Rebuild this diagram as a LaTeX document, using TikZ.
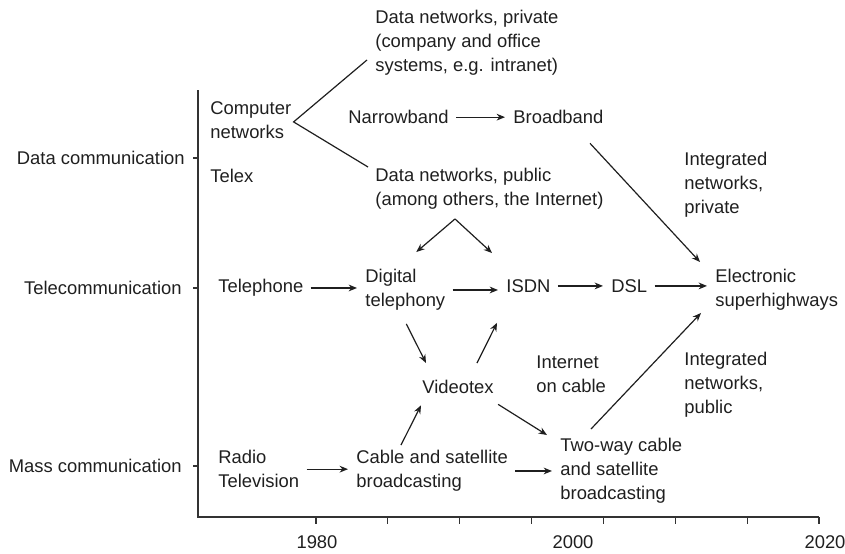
\documentclass[tikz,border=0pt]{standalone}
\usepackage{fontspec}
\setmainfont{Liberation Sans}
\usetikzlibrary{arrows.meta,calc}
\tikzset{
  lbl/.style={anchor=north west,inner sep=0pt,align=left,
    font=\fontsize{9.2}{12}\selectfont,text=black!88},
  side/.style={lbl,anchor=north east,align=right},
  year/.style={lbl,anchor=north,align=center},
  axe/.style={line width=0.6pt,draw=black!80},
  lien/.style={line width=0.6pt,draw=black!88},
  arr/.style={lien,-{Stealth[length=4.2pt,width=3.4pt]}},
  hor/.style={arr,shorten <=3.5pt,shorten >=4pt}
}
\begin{document}
\begin{tikzpicture}[x=0.5pt,y=-0.5pt]
\useasboundingbox (0,0) rectangle (845,553);

% Axes
\def\pas{71.86}
\draw[axe] (198,90) -- (198,517) -- (819,517);
\foreach \i in {0,...,7}
  \draw[axe] (316+\i*\pas,517) -- (316+\i*\pas,524);
\foreach \y in {158,288,466}
  \draw[axe] (193,\y) -- (198,\y);

% Domaines
\node[side] (datacom) at (185,151) {Data communication};
\node[side] (telecom) at (182,281) {Telecommunication};
\node[side] (masscom) at (182,459) {Mass communication};

% Annees
\node[year] (y1980) at (317,535) {1980};
\node[year] (y2000) at (573,535) {2000};
\node[year] (y2020) at (825,535) {2020};

% Donnees
\node[lbl] (compnet) at (210,101) {Computer\\networks};
\node[lbl] (telex) at (210,169) {Telex};
\node[lbl] (privdata) at (375,10) {Data networks, private\\(company and office\\systems, e.g. intranet)};
\node[lbl] (narrow) at (348,110) {Narrowband};
\node[lbl] (broad) at (513,110) {Broadband};
\node[lbl] (pubdata) at (375,168) {Data networks, public\\(among others, the Internet)};
\node[lbl] (intpriv) at (684,152) {Integrated\\networks,\\private};

% Telecommunication
\node[lbl] (phone) at (218,279) {Telephone};
\node[lbl] (digital) at (365,269) {Digital\\telephony};
\node[lbl] (isdn) at (506,279) {ISDN};
\node[lbl] (dsl) at (611,279) {DSL};
\node[lbl] (elec) at (715,269) {Electronic\\superhighways};
\node[lbl] (videotex) at (422,380) {Videotex};
\node[lbl] (inetcable) at (536,355) {Internet\\on cable};
\node[lbl] (intpub) at (684,352) {Integrated\\networks,\\public};

% Masse
\node[lbl] (radio) at (218,450) {Radio\\Television};
\node[lbl] (cable) at (356,450) {Cable and satellite\\broadcasting};
\node[lbl] (twoway) at (560,438) {Two-way cable\\and satellite\\broadcasting};

% Branches
\draw[lien] ($(privdata.west)+(-8,17)$) -- ($(compnet.east)+(2,2)$)
  -- ($(pubdata.north west)+(-7,-1)$);

% Fleches horizontales
\draw[hor] (narrow.east) -- (narrow.east -| broad.west);
\draw[hor] (phone.east) -- (phone.east -| digital.west);
\draw[hor] (digital.east) -- (digital.east -| isdn.west);
\draw[hor] (isdn.east) -- (isdn.east -| dsl.west);
\draw[hor] (dsl.east) -- (dsl.east -| elec.west);
\draw[hor] (radio.east) -- (radio.east -| cable.west);
\draw[hor] (cable.east) -- (cable.east -| twoway.west);

% Fleches obliques
\draw[arr] ($(pubdata.south west)+(80,9)$) -- ($(digital.north)+(11,-17)$);
\draw[arr] ($(pubdata.south west)+(80,9)$) -- ($(isdn.north west)+(-14,-26)$);
\draw[arr] ($(digital.south)+(1,13)$) -- ($(videotex.north west)+(4,-17)$);
\draw[arr] ($(videotex.north west)+(55,-17)$) -- ($(isdn.south west)+(-9,30)$);
\draw[arr] ($(cable.north west)+(45,-5)$) -- ($(videotex.south west)+(-1,11)$);
\draw[arr] ($(videotex.south east)+(4,10)$) -- ($(twoway.north west)+(-13,-3)$);
\draw[arr] ($(twoway.north west)+(31,-9)$) -- ($(elec.south west)+(-14,2)$);
\draw[arr] ($(broad.south west)+(77,19)$) -- ($(elec.north west)+(-15,-7)$);
\end{tikzpicture}
\end{document}
